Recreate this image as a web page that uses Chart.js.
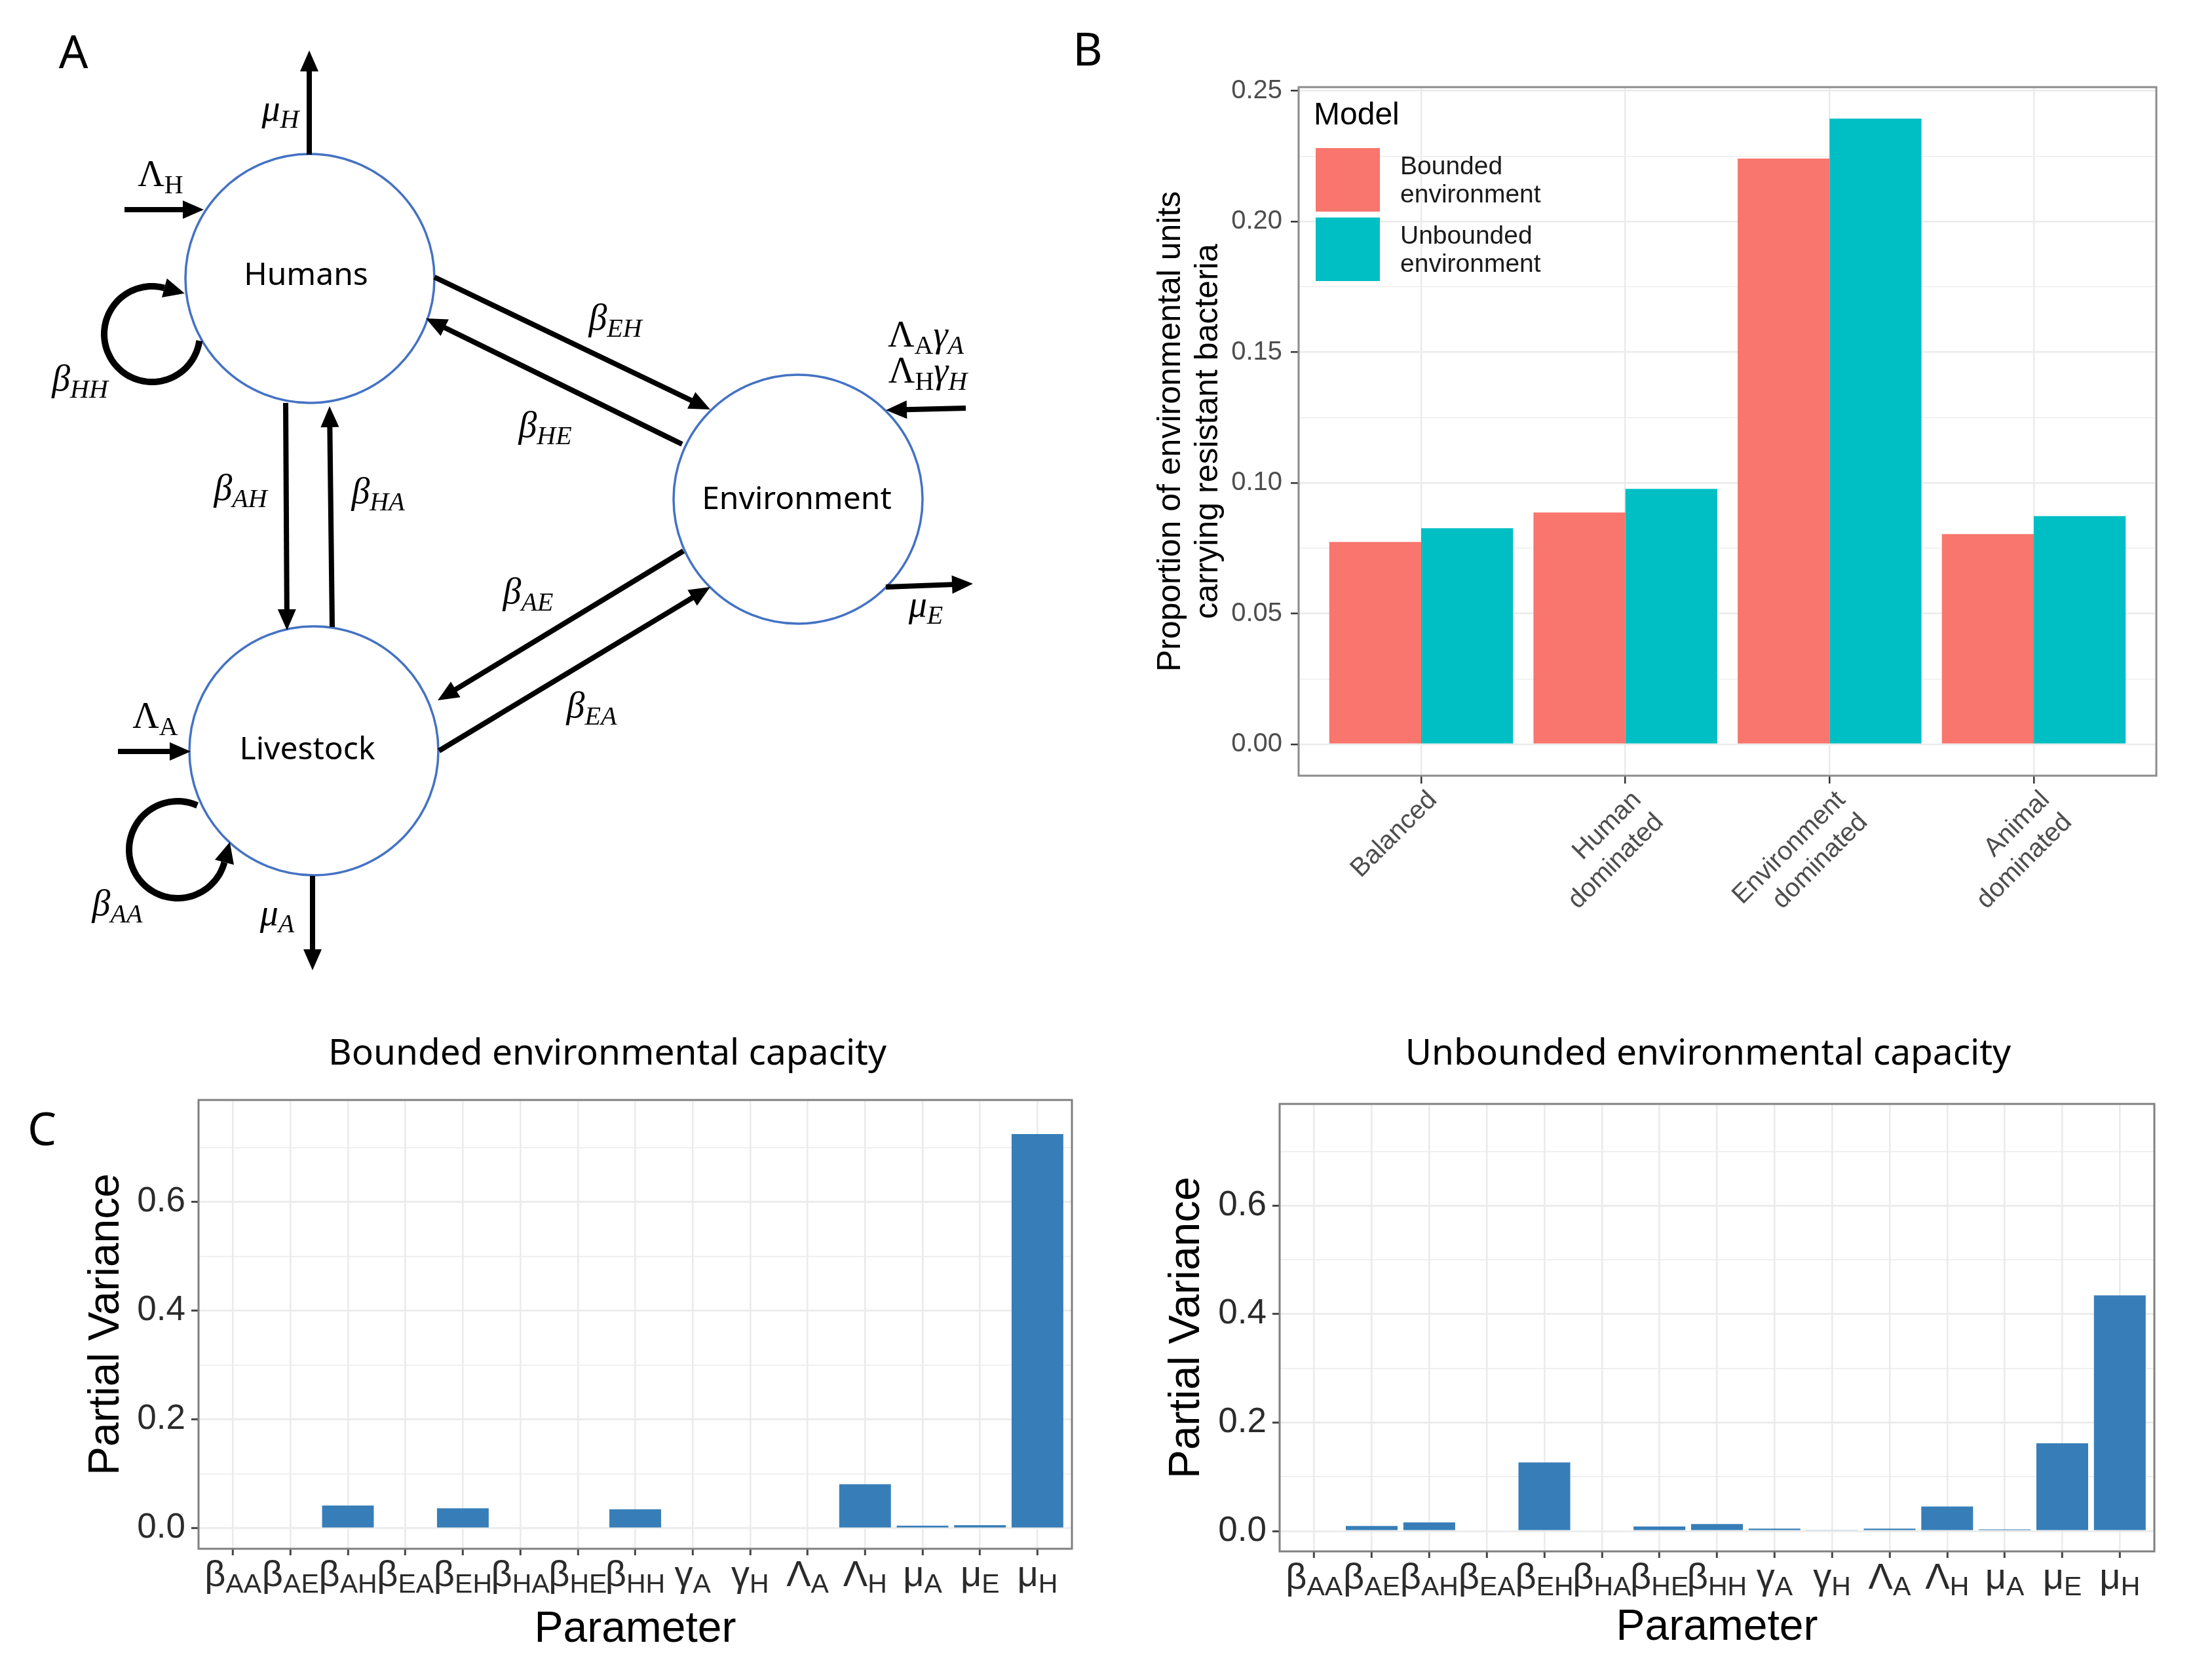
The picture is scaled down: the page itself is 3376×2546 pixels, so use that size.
<!DOCTYPE html>
<html><head><meta charset="utf-8">
<script src="https://cdn.jsdelivr.net/npm/chart.js@4.4.1/dist/chart.umd.min.js"></script>
<style>
html,body{margin:0;padding:0;background:#fff;}
#root{position:relative;width:3376px;height:2546px;overflow:hidden;background:#fff;}
canvas{position:absolute;}
#overlay{position:absolute;left:0;top:0;pointer-events:none;}
</style></head><body>
<div id="root">
<canvas id="chartB" width="1620" height="1357" style="left:1700px;top:93px;width:1620px;height:1357px"></canvas>
<canvas id="chartC1" width="1560" height="912" style="left:100px;top:1634px;width:1560px;height:912px"></canvas>
<canvas id="chartC2" width="1570" height="906" style="left:1750px;top:1640px;width:1570px;height:906px"></canvas>
<svg id="overlay" width="3376" height="2546" xmlns="http://www.w3.org/2000/svg"></svg>
</div>
<script>
// ---------------- DATA ----------------
const scenarioLabels = [['Balanced'], ['Human', 'dominated'], ['Environment', 'dominated'], ['Animal', 'dominated']];
const boundedEnv = [0.0774, 0.0887, 0.2241, 0.0804];
const unboundedEnv = [0.0827, 0.0977, 0.2394, 0.0873];
const yTicksB = [0, 0.025, 0.05, 0.075, 0.10, 0.125, 0.15, 0.175, 0.20, 0.225, 0.25];
const yMajorB = [0, 0.05, 0.10, 0.15, 0.20, 0.25];

const paramSymbol = ['β','β','β','β','β','β','β','β','γ','γ','Λ','Λ','μ','μ','μ'];
const paramIndex  = ['AA','AE','AH','EA','EH','HA','HE','HH','A','H','A','H','A','E','H'];
const partialVarBounded   = [0, 0, 0.042, 0, 0.037, 0, 0.0015, 0.035, 0.0015, 0, 0.0015, 0.081, 0.005, 0.006, 0.725];
const partialVarUnbounded = [0, 0.0092, 0.0161, 0, 0.1264, 0, 0.0084, 0.013, 0.0046, 0.0015, 0.0046, 0.0452, 0.003, 0.1617, 0.4345];
const yTicksC = [0, 0.1, 0.2, 0.3, 0.4, 0.5, 0.6, 0.7];
const yMajorC = [0, 0.2, 0.4, 0.6];

// ---------------- CHARTS ----------------
Chart.defaults.font.family = '"Liberation Sans", Arial, sans-serif';
const isIn = (arr, v) => arr.some(a => Math.abs(a - v) < 1e-9);

const borderPlugin = {
  id: 'panelBorder',
  afterDraw(chart, args, opts) {
    const {ctx, chartArea: a} = chart;
    ctx.save();
    ctx.strokeStyle = opts.color; ctx.lineWidth = opts.width;
    ctx.strokeRect(a.left, a.top, a.right - a.left, a.bottom - a.top);
    ctx.restore();
  }
};

new Chart(document.getElementById('chartB'), {
  type: 'bar',
  data: {
    datasets: [
      {label: 'Bounded environment', data: boundedEnv.map((v, i) => ({x: i + 1, y: v})), backgroundColor: '#F8766D', borderWidth: 0, categoryPercentage: 0.9, barPercentage: 1},
      {label: 'Unbounded environment', data: unboundedEnv.map((v, i) => ({x: i + 1, y: v})), backgroundColor: '#00BFC4', borderWidth: 0, categoryPercentage: 0.9, barPercentage: 1}
    ]
  },
  plugins: [borderPlugin],
  options: {
    responsive: false, animation: false, devicePixelRatio: 1,
    layout: {padding: {top: 40, right: 29, left: 0, bottom: 0}},
    plugins: {legend: {display: false}, tooltip: {enabled: false}, panelBorder: {color: '#8c8c8c', width: 3}},
    scales: {
      x: {
        type: 'linear', min: 0.4, max: 4.6, offset: false,
        afterBuildTicks: s => { s.ticks = scenarioLabels.map((c, i) => ({value: i + 1})); },
        afterFit: s => { s.height = 266; },
        border: {display: false},
        grid: {offset: false, color: '#ebebeb', lineWidth: 2.5, drawTicks: true, tickLength: 12, tickColor: '#333', tickWidth: 2.5},
        ticks: {autoSkip: false, minRotation: 45, maxRotation: 45, padding: 2, labelOffset: 18, color: '#4d4d4d', font: {size: 40},
                callback: v => scenarioLabels[Math.round(v) - 1]}
      },
      y: {
        min: -0.012, max: 0.2514,
        afterBuildTicks: s => { s.ticks = yTicksB.map(v => ({value: v})); },
        afterFit: s => { s.width = 282; },
        border: {display: false},
        grid: {color: '#ebebeb', lineWidth: c => isIn(yMajorB, c.tick.value) ? 2.6 : 1.3,
               tickLength: 12, tickWidth: 2.5, tickColor: c => isIn(yMajorB, c.tick.value) ? '#333' : 'rgba(0,0,0,0)'},
        ticks: {autoSkip: false, padding: 13, color: '#4d4d4d', font: {size: 40},
                callback: v => isIn(yMajorB, v) ? v.toFixed(2) : ''},
        title: {display: true, text: ['Proportion of environmental units', 'carrying resistant bacteria'], color: '#000',
                font: {size: 50, lineHeight: 1.15}, padding: {top: 58, bottom: 0}}
      }
    }
  }
});

const subLabelPlugin = {
  id: 'subLabels',
  afterDraw(chart, args, opts) {
    const xs = chart.scales.x, ctx = chart.ctx;
    ctx.save();
    ctx.fillStyle = opts.color; ctx.textBaseline = 'alphabetic'; ctx.textAlign = 'left';
    const fam = '"Liberation Sans", Arial, sans-serif';
    paramSymbol.forEach((m, i) => {
      const px = xs.getPixelForValue(i + 1);
      ctx.font = opts.mainSize + 'px ' + fam; const w1 = ctx.measureText(m).width;
      ctx.font = opts.subSize + 'px ' + fam; const w2 = ctx.measureText(paramIndex[i]).width;
      const x0 = px - (w1 + w2) / 2;
      ctx.font = opts.mainSize + 'px ' + fam; ctx.fillText(m, x0, xs.top + opts.baseOffset);
      ctx.font = opts.subSize + 'px ' + fam; ctx.fillText(paramIndex[i], x0 + w1, xs.top + opts.baseOffset + opts.subDrop);
    });
    ctx.restore();
  }
};

function makeC(id, values, pad, yAxisW, xAxisH, titlePadY, titlePadX) {
  return new Chart(document.getElementById(id), {
    type: 'bar',
    data: {datasets: [{label: 'Partial Variance', data: values.map((v, i) => ({x: i + 1, y: v})),
                       backgroundColor: '#377EB8', borderWidth: 0, categoryPercentage: 0.9, barPercentage: 1}]},
    plugins: [borderPlugin, subLabelPlugin],
    options: {
      responsive: false, animation: false, devicePixelRatio: 1,
      layout: {padding: pad},
      plugins: {legend: {display: false}, tooltip: {enabled: false},
                panelBorder: {color: '#808080', width: 3},
                subLabels: {color: '#2b2b2b', mainSize: 56, subSize: 41, baseOffset: 57, subDrop: 10}},
      scales: {
        x: {
          type: 'linear', min: 0.4, max: 15.6, offset: false,
          afterBuildTicks: s => { s.ticks = paramSymbol.map((c, i) => ({value: i + 1})); },
          afterFit: s => { s.height = xAxisH; },
          border: {display: false},
          grid: {offset: false, color: '#ebebeb', lineWidth: 2.6, drawTicks: true, tickLength: 10, tickColor: '#444', tickWidth: 3},
          ticks: {display: false},
          title: {display: true, text: 'Parameter', color: '#000', font: {size: 66, lineHeight: 1.2}, padding: {top: 0, bottom: titlePadX}}
        },
        y: {
          min: -0.0375, max: 0.7875,
          afterBuildTicks: s => { s.ticks = yTicksC.map(v => ({value: v})); },
          afterFit: s => { s.width = yAxisW; },
          border: {display: false},
          grid: {color: '#ebebeb', lineWidth: c => isIn(yMajorC, c.tick.value) ? 2.8 : 1.4,
                 tickLength: 11, tickWidth: 3, tickColor: c => isIn(yMajorC, c.tick.value) ? '#444' : 'rgba(0,0,0,0)'},
          ticks: {autoSkip: false, padding: 9, color: '#2b2b2b', font: {size: 53},
                  callback: v => isIn(yMajorC, v) ? v.toFixed(1) : ''},
          title: {display: true, text: 'Partial Variance', color: '#000', font: {size: 66, lineHeight: 1.2}, padding: {top: titlePadY, bottom: 0}}
        }
      }
    }
  });
}
makeC('chartC1', partialVarBounded, {top: 45, right: 24, left: 0, bottom: 0}, 203, 182, 23, 19);
makeC('chartC2', partialVarUnbounded, {top: 45, right: 32, left: 0, bottom: 0}, 203, 178, 22, 22);

// ---------------- DIAGRAM & TEXT OVERLAY ----------------
const svg = document.getElementById('overlay');
let out = '';
const SANS = "'Noto Sans', 'Open Sans', sans-serif";
const SERIF = "'Liberation Serif', 'DejaVu Serif', serif";
function txt(x, y, s, size, opts = {}) {
  out += `<text x="${x}" y="${y}" font-family="${opts.family || SANS}" font-size="${size}" fill="${opts.fill || '#000'}" text-anchor="${opts.anchor || 'middle'}">${s}</text>`;
}
function arrow(x0, y0, x1, y1) {
  const dx = x1 - x0, dy = y1 - y0, L = Math.hypot(dx, dy), ux = dx / L, uy = dy / L;
  const hl = 32, hw = 28, bx = x1 - ux * hl, by = y1 - uy * hl, nx = -uy, ny = ux;
  out += `<line x1="${x0}" y1="${y0}" x2="${bx + ux * 2}" y2="${by + uy * 2}" stroke="#000" stroke-width="8"/>`;
  out += `<polygon points="${x1},${y1} ${bx + nx * hw / 2},${by + ny * hw / 2} ${bx - nx * hw / 2},${by - ny * hw / 2}" fill="#000"/>`;
}
function loop(cx, cy, r, a0, a1) {
  const pts = [], n = 90;
  for (let i = 0; i <= n; i++) {
    const a = (a0 + (a1 - a0) * i / n) * Math.PI / 180;
    pts.push((cx + r * Math.cos(a)).toFixed(1) + ',' + (cy + r * Math.sin(a)).toFixed(1));
  }
  out += `<polyline points="${pts.join(' ')}" fill="none" stroke="#000" stroke-width="10"/>`;
  const a = a1 * Math.PI / 180, sgn = Math.sign(a1 - a0);
  const ex = cx + r * Math.cos(a), ey = cy + r * Math.sin(a);
  const ux = -Math.sin(a) * sgn, uy = Math.cos(a) * sgn, nx = -uy, ny = ux;
  const hl = 32, hw = 30, tx = ex + ux * hl, ty = ey + uy * hl;
  out += `<polygon points="${tx},${ty} ${ex + nx * hw / 2},${ey + ny * hw / 2} ${ex - nx * hw / 2},${ey - ny * hw / 2}" fill="#000"/>`;
}
function greek(cx, base, main, sub, italic = true) {
  const st = italic ? 'italic' : 'normal';
  out += `<text x="${cx}" y="${base}" font-family="${SERIF}" font-size="56" font-style="${st}" text-anchor="middle">${main}<tspan font-size="40" dy="11">${sub}</tspan></text>`;
}

// circles
[[473, 425], [1218, 762], [479, 1146]].forEach(([x, y]) => {
  out += `<circle cx="${x}" cy="${y}" r="190" fill="#fff" stroke="#4472C4" stroke-width="3.5"/>`;
});
txt(467, 435, 'Humans', 48);
txt(1216, 777, 'Environment', 48);
txt(469, 1159, 'Livestock', 48);

// arrows
arrow(472, 236, 472, 77);      // mu_H
arrow(190, 320, 311, 320);     // Lambda_H
arrow(663, 423, 1084, 625);    // beta_EH
arrow(1041, 678, 650, 486);    // beta_HE
arrow(436, 615, 438, 962);     // beta_AH
arrow(507, 957, 503, 620);     // beta_HA
arrow(1043, 841, 668, 1069);   // beta_AE
arrow(670, 1146, 1084, 896);   // beta_EA
arrow(1474, 623, 1352, 626);   // inflow to environment
arrow(1352, 896, 1485, 891);   // mu_E
arrow(180, 1147, 291, 1147);   // Lambda_A
arrow(477, 1337, 477, 1481);   // mu_A
loop(232, 510, 73, 8, 285);    // beta_HH
loop(271, 1297, 74, 294, 15);  // beta_AA

// labels
greek(428, 184, 'μ', 'H');
greek(245, 284, 'Λ', 'H', false);
greek(122, 596, 'β', 'HH');
greek(939, 503, 'β', 'EH');
greek(832, 667, 'β', 'HE');
greek(367, 763, 'β', 'AH');
greek(577, 768, 'β', 'HA');
greek(806, 921, 'β', 'AE');
greek(903, 1095, 'β', 'EA');
greek(1413, 941, 'μ', 'E');
greek(237, 1111, 'Λ', 'A', false);
greek(179, 1397, 'β', 'AA');
greek(423, 1412, 'μ', 'A');
out += `<text x="1413" y="529" font-family="${SERIF}" font-size="56" text-anchor="middle">Λ<tspan font-size="40" dy="11">A</tspan><tspan font-style="italic" dy="-11">γ</tspan><tspan font-style="italic" font-size="40" dy="11">A</tspan></text>`;
out += `<text x="1416" y="584" font-family="${SERIF}" font-size="56" text-anchor="middle">Λ<tspan font-size="40" dy="11">H</tspan><tspan font-style="italic" dy="-11">γ</tspan><tspan font-style="italic" font-size="40" dy="11">H</tspan></text>`;

// panel letters
txt(112, 104, 'A', 70);
txt(1660, 100, 'B', 70);
txt(64, 1748, 'C', 70);

// legend of panel B
const LAT = "'Liberation Sans', Arial, sans-serif";
txt(2005, 190, 'Model', 48, {family: LAT, anchor: 'start'});
out += `<rect x="2008" y="226" width="98" height="97" fill="#F8766D"/>`;
out += `<rect x="2008" y="332" width="98" height="97" fill="#00BFC4"/>`;
txt(2137, 266, 'Bounded', 39, {family: LAT, anchor: 'start', fill: '#1a1a1a'});
txt(2137, 309, 'environment', 39, {family: LAT, anchor: 'start', fill: '#1a1a1a'});
txt(2137, 372, 'Unbounded', 39, {family: LAT, anchor: 'start', fill: '#1a1a1a'});
txt(2137, 415, 'environment', 39, {family: LAT, anchor: 'start', fill: '#1a1a1a'});

// panel C titles
txt(927, 1625, 'Bounded environmental capacity', 55);
txt(2607, 1625, 'Unbounded environmental capacity', 55);

svg.innerHTML = out;
</script>
</body></html>
